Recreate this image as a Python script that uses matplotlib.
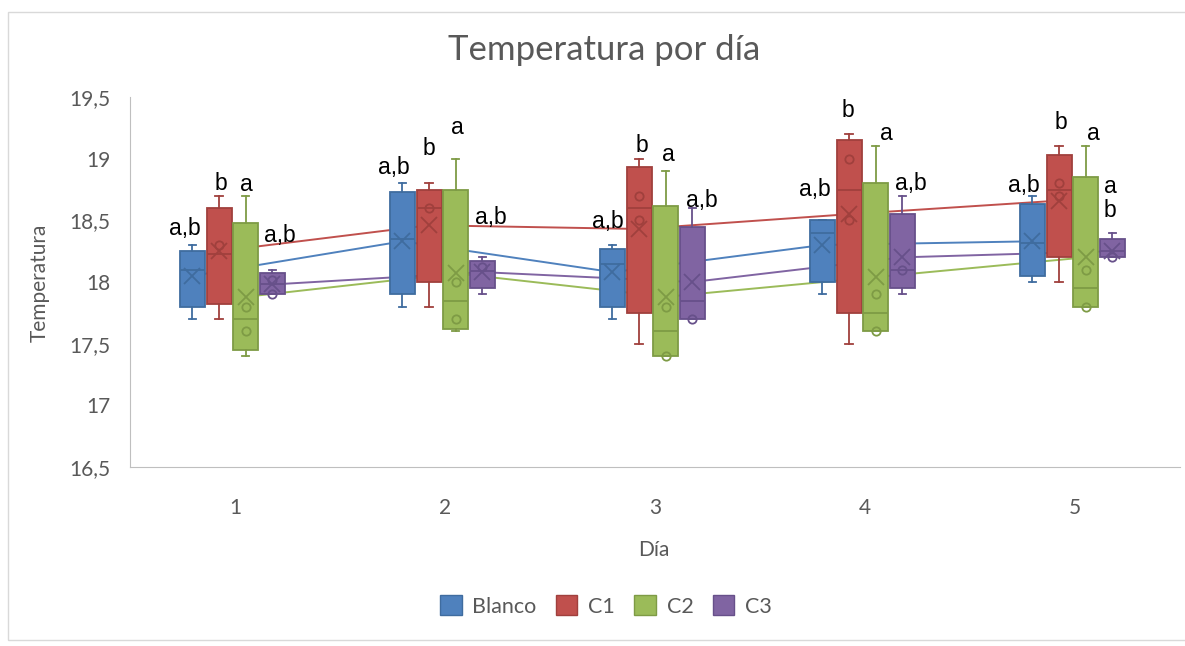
import matplotlib
matplotlib.use("Agg")
import matplotlib.pyplot as plt
from matplotlib.patches import Patch, Rectangle
import numpy as np

plt.rcParams['font.family'] = ['Lato', 'DejaVu Sans']

dias = [1, 2, 3, 4, 5]
series = ['Blanco', 'C1', 'C2', 'C3']
fill_col = ['#4F81BD', '#C0504D', '#9BBB59', '#8064A2']
edge_col = ['#3F6C9F', '#A0403D', '#7E9B45', '#67508A']

# box stats, one list per series (días 1..5)
w_lo = {'Blanco': [17.7, 17.8, 17.7, 17.9, 18.0],
        'C1':     [17.7, 17.8, 17.5, 17.5, 18.0],
        'C2':     [17.4, 17.6, 17.4, 17.6, 17.8],
        'C3':     [17.9, 17.9, 17.7, 17.9, 18.2]}
q1 = {'Blanco': [17.8, 17.9, 17.8, 18.0, 18.05],
      'C1':     [17.82, 18.0, 17.75, 17.75, 18.2],
      'C2':     [17.45, 17.62, 17.4, 17.6, 17.8],
      'C3':     [17.9, 17.95, 17.7, 17.95, 18.2]}
med = {'Blanco': [18.1, 18.35, 18.15, 18.4, 18.32],
       'C1':     [18.23, 18.6, 18.6, 18.75, 18.75],
       'C2':     [17.7, 17.85, 17.6, 17.75, 17.95],
       'C3':     [17.98, 18.09, 17.85, 18.1, 18.25]}
q3 = {'Blanco': [18.25, 18.73, 18.27, 18.5, 18.63],
      'C1':     [18.6, 18.75, 18.93, 19.15, 19.03],
      'C2':     [18.48, 18.75, 18.62, 18.8, 18.85],
      'C3':     [18.07, 18.17, 18.45, 18.55, 18.35]}
w_hi = {'Blanco': [18.3, 18.8, 18.3, 18.5, 18.7],
        'C1':     [18.7, 18.8, 19.0, 19.2, 19.1],
        'C2':     [18.7, 19.0, 18.9, 19.1, 19.1],
        'C3':     [18.1, 18.2, 18.6, 18.7, 18.4]}
media = {'Blanco': [18.05, 18.33, 18.08, 18.3, 18.33],
         'C1':     [18.25, 18.46, 18.43, 18.55, 18.66],
         'C2':     [17.88, 18.07, 17.88, 18.04, 18.2],
         'C3':     [17.98, 18.08, 18.0, 18.2, 18.25]}
puntos = {'Blanco': [[], [], [], [], []],
          'C1':     [[18.3], [18.6], [18.7, 18.5], [19.0, 18.5], [18.8, 18.7]],
          'C2':     [[17.8, 17.6], [18.0, 17.7], [17.8, 17.4], [17.9, 17.6], [18.1, 17.8]],
          'C3':     [[18.02, 17.9], [18.12], [17.7], [18.1], [18.2]]}

# significance letters per day and series
letras = [['a,b', 'b', 'a', 'a,b'],
          ['a,b', 'b', 'a', 'a,b'],
          ['a,b', 'b', 'a', 'a,b'],
          ['a,b', 'b', 'a', 'a,b'],
          ['a,b', 'b', 'a', 'a\nb']]
letra_dx = [[-0.238, -0.067, 0.052, 0.214],
            [-0.243, -0.076, 0.057, 0.219],
            [-0.224, -0.062, 0.062, 0.224],
            [-0.238, -0.081, 0.100, 0.219],
            [-0.243, -0.067, 0.086, 0.167]]
letra_y = [[18.43, 18.80, 18.79, 18.38],
           [18.93, 19.08, 19.25, 18.52],
           [18.49, 19.11, 19.03, 18.66],
           [18.75, 19.39, 19.20, 18.80],
           [18.78, 19.29, 19.20, 18.68]]

fig = plt.figure(figsize=(11.85, 6.46), dpi=100)
fig.patches.append(Rectangle((8 / 1185, 1 - 640 / 646), 1.2, (640 - 12) / 646,
                             transform=fig.transFigure, fill=False,
                             edgecolor='#D9D9D9', lw=1))
ax = fig.add_axes([130 / 1185, 1 - 467 / 646, 1050 / 1185, 370 / 646])

offs = (np.arange(4) - 1.5) * 0.127 - 0.012
bw = 0.119

for k, s in enumerate(series):
    pos = np.array(dias) + offs[k]
    stats = []
    for d in range(5):
        stats.append({'whislo': w_lo[s][d], 'q1': q1[s][d], 'med': med[s][d],
                      'q3': q3[s][d], 'whishi': w_hi[s][d], 'mean': media[s][d],
                      'fliers': []})
    ax.plot(pos, media[s], color=fill_col[k], lw=1.4, zorder=1)
    ax.bxp(stats, positions=pos, widths=bw, patch_artist=True, showmeans=True,
           capwidths=0.035, manage_ticks=False,
           boxprops=dict(facecolor=fill_col[k], edgecolor=edge_col[k], lw=1.3),
           medianprops=dict(color=edge_col[k], lw=1.3),
           whiskerprops=dict(color=edge_col[k], lw=1.3),
           capprops=dict(color=edge_col[k], lw=1.3),
           meanprops=dict(marker='x', markersize=11, markeredgecolor=edge_col[k],
                          markeredgewidth=1.3),
           zorder=2)
    for d in range(5):
        if puntos[s][d]:
            ax.plot([pos[d]] * len(puntos[s][d]), puntos[s][d], 'o', ms=6,
                    mfc='none', mec=edge_col[k], mew=1.3, zorder=3)

for d in range(5):
    for k in range(4):
        ax.text(dias[d] + letra_dx[d][k], letra_y[d][k], letras[d][k],
                ha='center', va='center', fontsize=16.5,
                family=['Liberation Sans'], color='black', linespacing=1.05,
                zorder=4)

ax.set_xlim(0.5, 5.5)
ax.set_ylim(16.5, 19.5)
ax.set_xticks(dias)
ax.set_xticklabels([str(d) for d in dias])
yt = [16.5, 17, 17.5, 18, 18.5, 19, 19.5]
ax.set_yticks(yt)
ax.set_yticklabels([('%g' % v).replace('.', ',') for v in yt])
ax.tick_params(axis='both', length=0, labelsize=15, colors='#595959')
ax.tick_params(axis='y', pad=14)
ax.tick_params(axis='x', pad=22)
for sp in ['top', 'right']:
    ax.spines[sp].set_visible(False)
for sp in ['left', 'bottom']:
    ax.spines[sp].set_color('#BFBFBF')

fig.text(40 / 1185, 1 - 283 / 646, 'Temperatura', rotation=90, ha='center',
         va='center', fontsize=15, color='#595959')
fig.text(654 / 1185, 1 - 550 / 646, 'Día', ha='center', va='center',
         fontsize=15, color='#595959')
fig.text(604 / 1185, 1 - 50 / 646, 'Temperatura por día', ha='center',
         va='center', fontsize=25, color='#595959')

handles = [Patch(facecolor=fill_col[k], edgecolor=edge_col[k], label=s)
           for k, s in enumerate(series)]
fig.legend(handles=handles, loc='center', bbox_to_anchor=(606 / 1185, 1 - 606 / 646),
           ncol=4, frameon=False, fontsize=15.5, labelcolor='#595959',
           handlelength=1.0, handleheight=1.0, handletextpad=0.5, columnspacing=0.9)

fig.savefig('out.png', dpi=100)
